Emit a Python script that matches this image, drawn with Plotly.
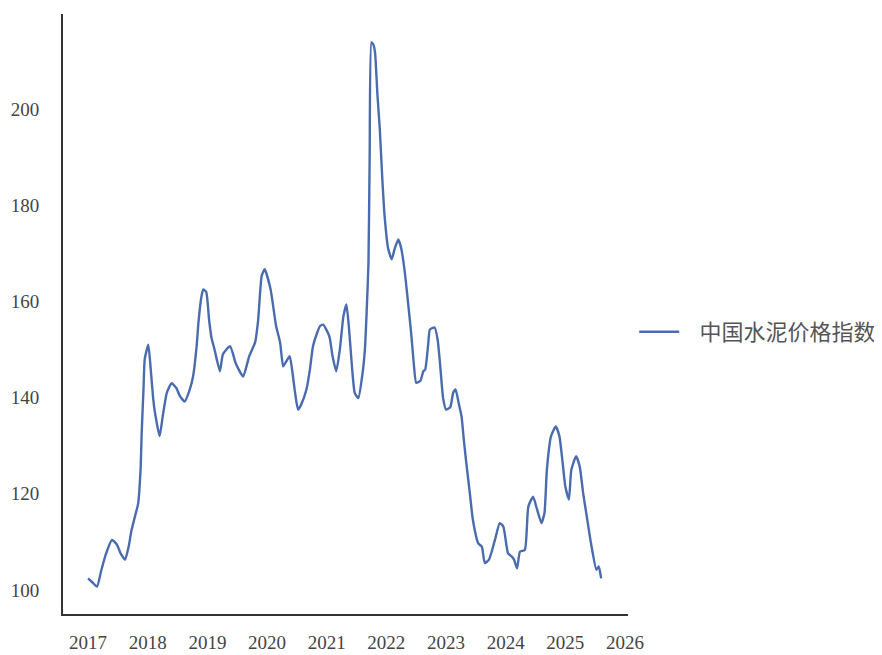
import plotly.graph_objects as go

# decimal year, index value
years = [
    2017.00, 2017.08, 2017.15, 2017.22, 2017.30, 2017.40, 2017.48, 2017.55, 2017.62, 2017.68,
    2017.73, 2017.78, 2017.84, 2017.88, 2017.90, 2017.93, 2017.95, 2018.01, 2018.05, 2018.09,
    2018.12, 2018.20, 2018.25, 2018.32, 2018.40, 2018.48, 2018.54, 2018.62, 2018.70, 2018.76,
    2018.82, 2018.85, 2018.90, 2018.93, 2018.98, 2019.03, 2019.07, 2019.12, 2019.21, 2019.26,
    2019.38, 2019.48, 2019.60, 2019.70, 2019.80, 2019.85, 2019.91, 2019.96, 2020.06, 2020.15,
    2020.22, 2020.27, 2020.32, 2020.38, 2020.42, 2020.47, 2020.52, 2020.57, 2020.66, 2020.72,
    2020.77, 2020.84, 2020.89, 2020.94, 2021.00, 2021.05, 2021.10, 2021.16, 2021.22, 2021.28,
    2021.33, 2021.37, 2021.42, 2021.47, 2021.53, 2021.60, 2021.64, 2021.67, 2021.70, 2021.72,
    2021.75, 2021.78, 2021.81, 2021.85, 2021.89, 2021.93, 2021.97, 2022.03, 2022.09, 2022.14,
    2022.20, 2022.25, 2022.31, 2022.37, 2022.42, 2022.46, 2022.50, 2022.57, 2022.62, 2022.65,
    2022.70, 2022.73, 2022.81, 2022.86, 2022.90, 2022.95, 2023.00, 2023.07, 2023.12, 2023.16,
    2023.21, 2023.26, 2023.30, 2023.34, 2023.40, 2023.45, 2023.54, 2023.60, 2023.65, 2023.72,
    2023.82, 2023.90, 2023.96, 2024.04, 2024.10, 2024.14, 2024.19, 2024.24, 2024.32, 2024.38,
    2024.46, 2024.52, 2024.60, 2024.65, 2024.69, 2024.76, 2024.84, 2024.90, 2024.95, 2025.00,
    2025.06, 2025.10, 2025.18, 2025.24, 2025.30, 2025.35, 2025.43, 2025.52, 2025.56, 2025.60,
]
values = [
    102.4, 101.5, 100.7, 104.0, 107.5, 110.4, 109.5, 107.5, 106.3, 109.0,
    112.5, 115.0, 118.0, 125.0, 133.0, 142.0, 148.0, 151.0, 146.0, 140.0,
    137.0, 132.0, 136.0, 141.0, 143.0, 142.0, 140.3, 139.2, 141.5, 144.4,
    150.7, 155.6, 161.0, 162.5, 162.0, 156.0, 152.4, 150.0, 145.5, 149.0,
    150.7, 147.0, 144.4, 148.6, 151.5, 156.0, 165.3, 166.7, 162.5, 155.0,
    151.4, 146.5, 147.5, 148.6, 145.8, 141.0, 137.5, 138.5, 141.7, 146.0,
    150.7, 153.5, 154.9, 155.2, 154.0, 152.5, 148.5, 145.5, 150.0, 156.9,
    159.4, 155.0, 147.0, 141.0, 139.9, 145.0, 150.0, 158.0, 168.0, 190.0,
    213.9, 213.5, 211.8, 203.0, 195.8, 186.0, 177.8, 171.0, 168.8, 171.0,
    172.9, 171.0, 166.0, 159.0, 152.8, 147.0, 143.1, 143.5, 145.5, 145.8,
    151.0, 154.2, 154.6, 152.0, 147.0, 140.0, 137.5, 138.0, 141.0, 141.7,
    139.0, 136.1, 131.0, 126.4, 120.0, 114.6, 109.7, 109.0, 105.6, 106.3,
    110.4, 113.9, 113.2, 107.6, 107.0, 106.3, 104.5, 108.0, 108.3, 117.4,
    119.4, 117.0, 113.9, 116.0, 125.0, 132.0, 134.0, 132.0, 127.0, 121.5,
    118.8, 125.0, 127.8, 125.7, 120.0, 116.0, 109.7, 104.2, 104.9, 102.4,
]
series_name = "中国水泥价格指数"
x_ticks = list(range(2017, 2027))
x_tick_labels = [str(y) for y in x_ticks]
y_ticks = [100, 120, 140, 160, 180, 200]

fig = go.Figure()
fig.add_trace(go.Scatter(
    x=years, y=values, mode="lines",
    name="\u2002\u2009" + series_name,  # small gap between legend line and text
    line=dict(color="#4A6CAF", width=2.4, shape="spline", smoothing=0.5),
))

axis_font = dict(family="Liberation Serif, Times New Roman, serif", size=19, color="#444444")

# the page body has an 8px margin, so the figure is drawn slightly smaller
fig.update_layout(
    width=874, height=647,
    margin=dict(l=55, r=254, t=6, b=41, autoexpand=False),
    paper_bgcolor="white", plot_bgcolor="white",
    showlegend=True,
    legend=dict(
        x=1.011, y=0.47, xanchor="left", yanchor="middle",
        itemwidth=40,
        font=dict(family="Noto Sans CJK SC, sans-serif", size=22, color="#555555"),
        bgcolor="rgba(0,0,0,0)",
    ),
    xaxis=dict(
        range=[2016.58, 2026.05], automargin=False,
        tickvals=x_ticks, ticktext=x_tick_labels,
        showgrid=False, zeroline=False,
        showline=True, linecolor="#333333", linewidth=2,
        ticks="", tickfont=axis_font, ticklabelstandoff=10,
    ),
    yaxis=dict(
        range=[95, 219.8], automargin=False,
        tickvals=y_ticks,
        showgrid=False, zeroline=False,
        showline=True, linecolor="#333333", linewidth=2,
        ticks="", tickfont=axis_font, ticklabelstandoff=18,
    ),
)

fig.write_html("out.html")
